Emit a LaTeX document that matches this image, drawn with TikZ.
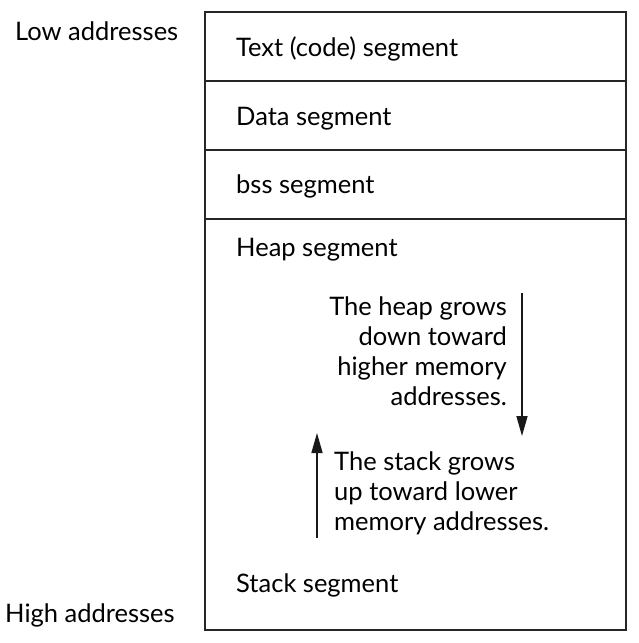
\documentclass[tikz,border=0pt]{standalone}
\usepackage{fontspec}
\setmainfont{Lato}
\usetikzlibrary{arrows.meta}
\begin{document}
\begin{tikzpicture}[x=1pt,y=-1pt,
  lbl/.style={inner sep=0pt,anchor=base west,font=\fontsize{25.5}{30}\selectfont},
  rlbl/.style={inner sep=0pt,anchor=base east,font=\fontsize{25.5}{30}\selectfont},
  frame/.style={line width=1.8pt,draw=black!85},
  growarrow/.style={line width=1.6pt,draw=black!90,-{Triangle[length=20pt,width=11pt]}}]
\useasboundingbox (0,0) rectangle (638,643);
\draw[frame] (205,12) rectangle (626,630);
\draw[frame] (205,81) -- (626,81);
\draw[frame] (205,150) -- (626,150);
\draw[frame] (205,219) -- (626,219);
\node[lbl] (low) at (15,40) {Low addresses};
\node[lbl] (high) at (5,622) {High addresses};
\node[lbl] (text) at (236,56) {Text (code) segment};
\node[lbl] (data) at (236,125) {Data segment};
\node[lbl] (bss) at (236,193) {bss segment};
\node[lbl] (heap) at (236,256) {Heap segment};
\node[lbl] (stack) at (236,592) {Stack segment};
\node[rlbl] (h1) at (507,315) {The heap grows};
\node[rlbl] (h2) at (507,345) {down toward};
\node[rlbl] (h3) at (507,375) {higher memory};
\node[rlbl] (h4) at (507,405) {addresses.};
\node[lbl] (s1) at (334,470) {The stack grows};
\node[lbl] (s2) at (334,500) {up toward lower};
\node[lbl] (s3) at (334,530) {memory addresses.};
\coordinate (dtop) at (522,293);
\coordinate (dbot) at (522,436);
\coordinate (ubot) at (317,538);
\coordinate (utop) at (317,433);
\draw[growarrow] (dtop) -- (dbot);
\draw[growarrow] (ubot) -- (utop);
\end{tikzpicture}
\end{document}
